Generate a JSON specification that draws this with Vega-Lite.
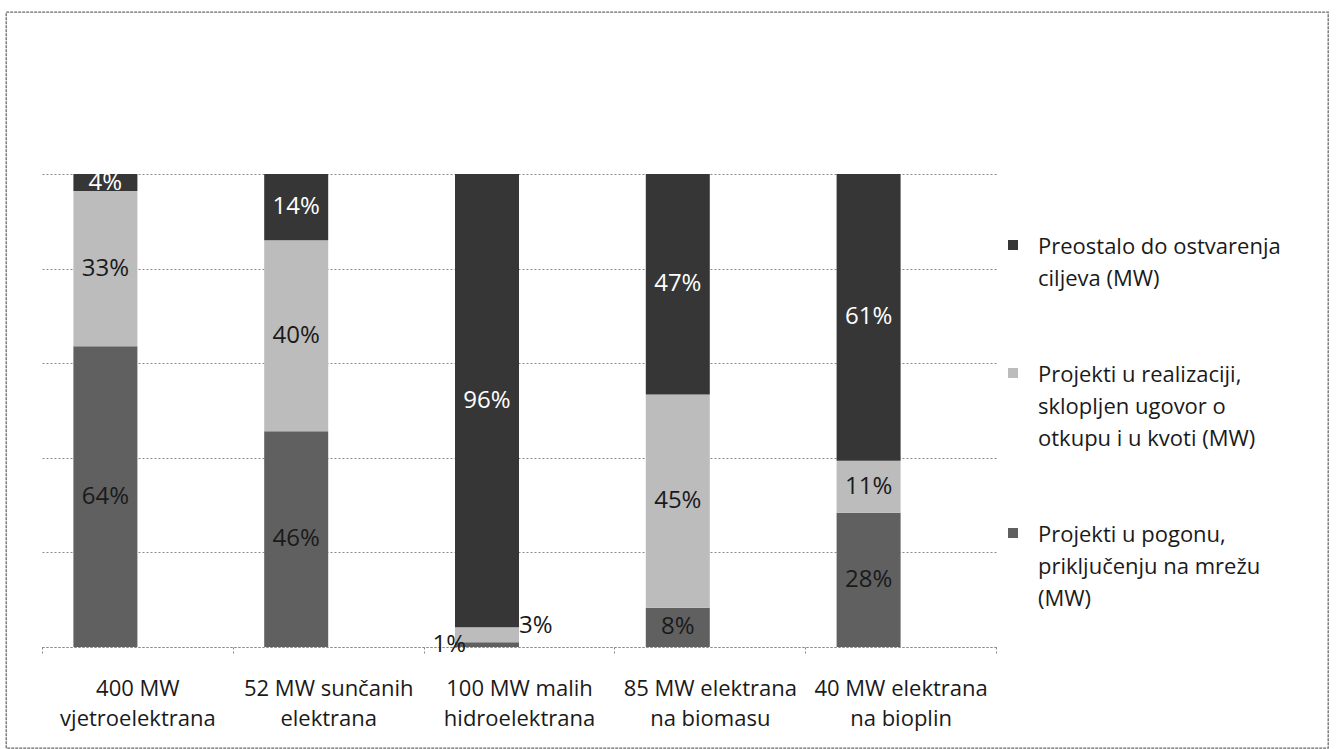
{
  "$schema": "https://vega.github.io/schema/vega-lite/v6.json",
  "width": 1322,
  "height": 736,
  "padding": {"left": 6, "top": 12, "right": 10, "bottom": 1},
  "autosize": "none",
  "background": "white",
  "config": {
    "view": {"stroke": "#6a6a6a", "strokeWidth": 1.3, "strokeDash": [3, 1]},
    "font": "Open Sans"
  },
  "data": {
    "values": [
      {"cat": "400 MW|vjetroelektrana", "series": "Projekti u pogonu,|priključenju na mrežu|(MW)", "ord": 1, "value": 0.636},
      {"cat": "400 MW|vjetroelektrana", "series": "Projekti u realizaciji,|sklopljen ugovor o|otkupu i u kvoti (MW)", "ord": 2, "value": 0.328},
      {"cat": "400 MW|vjetroelektrana", "series": "Preostalo do ostvarenja|ciljeva (MW)", "ord": 3, "value": 0.036},
      {"cat": "52 MW sunčanih|elektrana", "series": "Projekti u pogonu,|priključenju na mrežu|(MW)", "ord": 1, "value": 0.456},
      {"cat": "52 MW sunčanih|elektrana", "series": "Projekti u realizaciji,|sklopljen ugovor o|otkupu i u kvoti (MW)", "ord": 2, "value": 0.404},
      {"cat": "52 MW sunčanih|elektrana", "series": "Preostalo do ostvarenja|ciljeva (MW)", "ord": 3, "value": 0.14},
      {"cat": "100 MW malih|hidroelektrana", "series": "Projekti u pogonu,|priključenju na mrežu|(MW)", "ord": 1, "value": 0.01},
      {"cat": "100 MW malih|hidroelektrana", "series": "Projekti u realizaciji,|sklopljen ugovor o|otkupu i u kvoti (MW)", "ord": 2, "value": 0.032},
      {"cat": "100 MW malih|hidroelektrana", "series": "Preostalo do ostvarenja|ciljeva (MW)", "ord": 3, "value": 0.958},
      {"cat": "85 MW elektrana|na biomasu", "series": "Projekti u pogonu,|priključenju na mrežu|(MW)", "ord": 1, "value": 0.083},
      {"cat": "85 MW elektrana|na biomasu", "series": "Projekti u realizaciji,|sklopljen ugovor o|otkupu i u kvoti (MW)", "ord": 2, "value": 0.451},
      {"cat": "85 MW elektrana|na biomasu", "series": "Preostalo do ostvarenja|ciljeva (MW)", "ord": 3, "value": 0.466},
      {"cat": "40 MW elektrana|na bioplin", "series": "Projekti u pogonu,|priključenju na mrežu|(MW)", "ord": 1, "value": 0.284},
      {"cat": "40 MW elektrana|na bioplin", "series": "Projekti u realizaciji,|sklopljen ugovor o|otkupu i u kvoti (MW)", "ord": 2, "value": 0.11},
      {"cat": "40 MW elektrana|na bioplin", "series": "Preostalo do ostvarenja|ciljeva (MW)", "ord": 3, "value": 0.606}
    ]
  },
  "transform": [
    {"stack": "value", "groupby": ["cat"], "sort": [{"field": "ord", "order": "ascending"}], "as": ["v0", "v1"]},
    {"calculate": "(datum.v0 + datum.v1) / 2", "as": "mid"}
  ],
  "encoding": {
    "x": {
      "field": "cat", "type": "nominal", "sort": null,
      "scale": {"range": [36, 990], "paddingInner": 0, "paddingOuter": 0},
      "axis": {
        "title": null, "orient": "bottom", "offset": -101,
        "labelExpr": "split(datum.label, '|')",
        "labelAngle": 0, "labelFontSize": 22, "labelColor": "#1a1a1a",
        "labelLineHeight": 30, "labelPadding": 25, "labelLimit": 0,
        "domainColor": "#8a8a8a", "domainDash": [2, 2], "domainWidth": 1.2,
        "tickBand": "extent", "tickSize": 6, "tickColor": "#8a8a8a", "tickDash": [2, 2],
        "grid": false
      }
    },
    "y": {
      "field": "v0", "type": "quantitative",
      "scale": {"domain": [0, 1], "range": [635, 162], "nice": false, "zero": true},
      "axis": {
        "title": null, "labels": false, "ticks": false, "domain": false,
        "values": [0, 0.2, 0.4, 0.6, 0.8, 1],
        "grid": true, "gridColor": "#8a8a8a", "gridDash": [2, 2], "gridWidth": 1.2
      }
    }
  },
  "layer": [
    {
      "mark": {"type": "bar", "width": 64, "xOffset": -32},
      "encoding": {
        "y2": {"field": "v1"},
        "color": {
          "field": "series", "type": "nominal",
          "scale": {
            "domain": ["Preostalo do ostvarenja|ciljeva (MW)", "Projekti u realizaciji,|sklopljen ugovor o|otkupu i u kvoti (MW)", "Projekti u pogonu,|priključenju na mrežu|(MW)"],
            "range": ["#363636", "#bcbcbc", "#606060"]
          },
          "legend": {
            "title": null, "orient": "none", "legendX": 996, "legendY": 222,
            "labelExpr": "split(datum.label, '|')",
            "labelFontSize": 22, "labelColor": "#1a1a1a", "labelLimit": 0,
            "labelBaseline": "top", "labelOffset": 14,
            "symbolType": "square", "symbolSize": 100, "symbolStrokeWidth": 0,
            "rowPadding": 72,
            "encode": {"labels": {"update": {"lineHeight": {"value": 32}, "dy": {"value": -8}}}}
          }
        }
      }
    },
    {
      "transform": [{"filter": "!(datum.cat == '100 MW malih|hidroelektrana' && datum.ord < 3)"}],
      "mark": {"type": "text", "xOffset": -32, "fontSize": 24, "baseline": "middle"},
      "encoding": {
        "y": {"field": "mid", "type": "quantitative"},
        "text": {"field": "value", "type": "quantitative", "format": ".0%"},
        "color": {"condition": {"test": "datum.ord == 3", "value": "#ffffff"}, "value": "#1a1a1a"}
      }
    },
    {
      "transform": [{"filter": "datum.cat == '100 MW malih|hidroelektrana' && datum.ord == 1"}],
      "mark": {"type": "text", "xOffset": -32, "dx": -21, "align": "right", "fontSize": 24, "baseline": "middle", "color": "#1a1a1a"},
      "encoding": {
        "y": {"field": "mid", "type": "quantitative"},
        "text": {"field": "value", "type": "quantitative", "format": ".0%"}
      }
    },
    {
      "transform": [{"filter": "datum.cat == '100 MW malih|hidroelektrana' && datum.ord == 2"}],
      "mark": {"type": "text", "xOffset": -32, "dx": 32, "dy": -9, "align": "left", "fontSize": 24, "baseline": "middle", "color": "#1a1a1a"},
      "encoding": {
        "y": {"field": "mid", "type": "quantitative"},
        "text": {"field": "value", "type": "quantitative", "format": ".0%"}
      }
    }
  ]
}
